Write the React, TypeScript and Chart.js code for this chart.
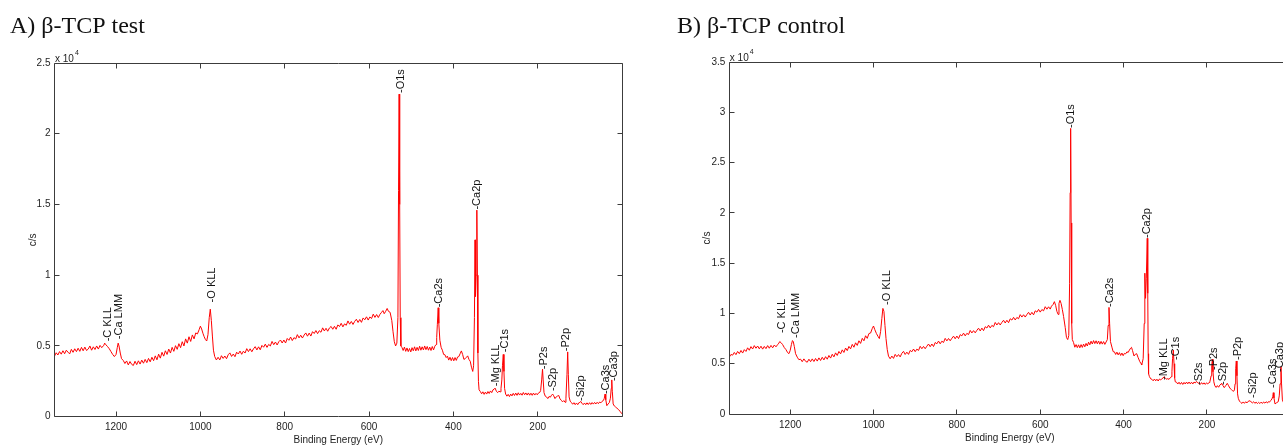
import React, { useEffect, useRef } from "react";
import { Chart, registerables } from "chart.js";

Chart.register(...registerables);

// ---------- Data: [binding energy (eV), intensity (x10^4 c/s)] ----------
const spectrumA: [number, number][] = [
  [1346, 0.428], [1342, 0.452], [1338, 0.436], [1334, 0.46], [1330, 0.442], [1326, 0.466], [1322, 0.445], [1318, 0.47],
  [1314, 0.456], [1310, 0.444], [1306, 0.476], [1302, 0.455], [1298, 0.48], [1294, 0.46], [1290, 0.484], [1286, 0.462],
  [1282, 0.49], [1278, 0.466], [1274, 0.492], [1270, 0.468], [1266, 0.478], [1262, 0.5], [1258, 0.47], [1254, 0.494],
  [1250, 0.475], [1246, 0.5], [1242, 0.478], [1238, 0.504], [1234, 0.488], [1229, 0.505], [1227, 0.52], [1224, 0.508],
  [1220, 0.495], [1216, 0.48], [1212, 0.46], [1208, 0.44], [1204, 0.425], [1200, 0.44], [1197, 0.49], [1195, 0.52],
  [1193, 0.5], [1190, 0.45], [1187, 0.41], [1183, 0.398], [1179, 0.376], [1175, 0.394], [1171, 0.366], [1167, 0.39],
  [1163, 0.37], [1159, 0.362], [1155, 0.392], [1151, 0.368], [1147, 0.395], [1143, 0.372], [1139, 0.4], [1135, 0.378],
  [1131, 0.405], [1127, 0.382], [1123, 0.412], [1119, 0.388], [1115, 0.42], [1111, 0.396], [1107, 0.43], [1103, 0.402],
  [1099, 0.442], [1095, 0.414], [1091, 0.455], [1087, 0.428], [1083, 0.466], [1079, 0.44], [1075, 0.478], [1071, 0.45],
  [1067, 0.49], [1063, 0.462], [1059, 0.502], [1055, 0.476], [1051, 0.516], [1047, 0.488], [1043, 0.53], [1039, 0.5],
  [1035, 0.55], [1031, 0.52], [1027, 0.565], [1023, 0.532], [1019, 0.578], [1015, 0.55], [1011, 0.592], [1007, 0.585],
  [1003, 0.615], [1000, 0.64], [997, 0.62], [994, 0.59], [991, 0.565], [988, 0.545], [985, 0.535], [982, 0.58],
  [979, 0.7], [976.5, 0.76], [974, 0.68], [971.5, 0.57], [969, 0.47], [966, 0.425], [962, 0.401], [958, 0.42],
  [954, 0.401], [950, 0.431], [946, 0.412], [942, 0.429], [938, 0.41], [934, 0.438], [930, 0.451], [926, 0.426],
  [922, 0.443], [918, 0.424], [914, 0.456], [910, 0.443], [906, 0.464], [902, 0.441], [898, 0.463], [894, 0.45],
  [890, 0.481], [886, 0.46], [882, 0.48], [878, 0.459], [874, 0.48], [870, 0.495], [866, 0.472], [862, 0.494],
  [858, 0.473], [854, 0.504], [850, 0.491], [846, 0.513], [842, 0.49], [838, 0.511], [834, 0.5], [830, 0.532],
  [826, 0.509], [822, 0.528], [818, 0.507], [814, 0.53], [810, 0.542], [806, 0.521], [802, 0.542], [798, 0.521],
  [794, 0.553], [790, 0.54], [786, 0.563], [782, 0.538], [778, 0.559], [774, 0.549], [770, 0.58], [766, 0.557],
  [762, 0.576], [758, 0.556], [754, 0.577], [750, 0.592], [746, 0.569], [742, 0.591], [738, 0.57], [734, 0.601],
  [730, 0.588], [726, 0.609], [722, 0.587], [718, 0.608], [714, 0.597], [710, 0.628], [706, 0.606], [702, 0.625],
  [698, 0.604], [694, 0.627], [690, 0.638], [686, 0.618], [682, 0.639], [678, 0.618], [674, 0.649], [670, 0.637],
  [666, 0.66], [662, 0.635], [658, 0.656], [654, 0.646], [650, 0.677], [646, 0.654], [642, 0.673], [638, 0.652],
  [634, 0.674], [630, 0.689], [626, 0.666], [622, 0.687], [618, 0.667], [614, 0.698], [610, 0.685], [606, 0.706],
  [602, 0.683], [598, 0.705], [594, 0.694], [590, 0.725], [586, 0.702], [582, 0.722], [578, 0.701], [574, 0.724],
  [571, 0.735], [567, 0.75], [564, 0.728], [561, 0.742], [557, 0.765], [554, 0.745], [550, 0.738], [546, 0.68],
  [543, 0.6], [540, 0.53], [537, 0.5], [534, 0.52], [531.5, 0.7], [530, 1.6], [528.6, 2.28], [527.3, 1.5],
  [526, 0.7], [524.5, 0.5], [522, 0.49], [519, 0.468], [516, 0.492], [513, 0.462], [510, 0.486], [507, 0.46],
  [504, 0.482], [501, 0.458], [498, 0.488], [495, 0.466], [492, 0.494], [489, 0.465], [486, 0.49], [483, 0.468],
  [480, 0.498], [477, 0.47], [474, 0.494], [471, 0.472], [468, 0.5], [465, 0.474], [462, 0.496], [459, 0.47],
  [456, 0.492], [453, 0.468], [450, 0.496], [447, 0.472], [444, 0.498], [441, 0.51], [439.5, 0.56], [438, 0.65],
  [436, 0.77], [434.5, 0.66], [432, 0.54], [429, 0.49], [426, 0.47], [423, 0.44], [420, 0.438], [417, 0.418],
  [414, 0.428], [411, 0.4], [408, 0.42], [405, 0.396], [402, 0.418], [399, 0.395], [396, 0.418], [393, 0.398],
  [390, 0.422], [387, 0.425], [384, 0.445], [381, 0.465], [378, 0.44], [375, 0.405], [372, 0.41], [369, 0.42],
  [366, 0.43], [363, 0.405], [360, 0.392], [357, 0.35], [354, 0.32], [352, 0.36], [350, 0.7], [348.6, 1.25],
  [347.4, 0.85], [346, 1.0], [344.3, 1.46], [343, 1.0], [341.8, 0.45], [340.5, 0.25], [339, 0.19], [336, 0.178],
  [333, 0.162], [330, 0.176], [327, 0.158], [324, 0.174], [321, 0.16], [318, 0.178], [315, 0.164], [312, 0.182],
  [309, 0.17], [306, 0.19], [303, 0.195], [301, 0.202], [298, 0.18], [295, 0.17], [292, 0.18], [289, 0.176],
  [287, 0.2], [285, 0.26], [283.5, 0.36], [281.6, 0.44], [280, 0.32], [278.5, 0.2], [276, 0.16], [273, 0.145],
  [270, 0.158], [267, 0.142], [264, 0.16], [261, 0.147], [258, 0.165], [255, 0.15], [252, 0.167], [249, 0.151],
  [246, 0.169], [243, 0.153], [240, 0.165], [237, 0.152], [234, 0.171], [231, 0.155], [228, 0.168], [225, 0.153],
  [222, 0.168], [219, 0.152], [216, 0.166], [213, 0.151], [210, 0.167], [207, 0.153], [204, 0.165], [201, 0.155],
  [198, 0.168], [195, 0.172], [193, 0.185], [190.5, 0.26], [188.5, 0.336], [187, 0.26], [185, 0.17], [182, 0.145],
  [179, 0.14], [176, 0.128], [173, 0.143], [170, 0.138], [167, 0.152], [164.5, 0.16], [162, 0.148], [159, 0.128],
  [156, 0.14], [153, 0.146], [150, 0.15], [147, 0.126], [144, 0.116], [141, 0.105], [138, 0.114], [135, 0.102],
  [133, 0.13], [130.5, 0.3], [128.8, 0.458], [127.3, 0.3], [125.5, 0.14], [123, 0.11], [120, 0.1], [117, 0.088],
  [114, 0.099], [111, 0.085], [108, 0.097], [105, 0.085], [102, 0.1], [100, 0.1], [98, 0.108], [95, 0.095],
  [92, 0.085], [89, 0.097], [86, 0.085], [83, 0.098], [80, 0.086], [77, 0.099], [74, 0.087], [71, 0.1],
  [68, 0.089], [65, 0.101], [62, 0.09], [59, 0.102], [56, 0.092], [53, 0.104], [50, 0.098], [47.5, 0.108],
  [44, 0.115], [42, 0.13], [40.2, 0.16], [38.5, 0.12], [36, 0.078], [33, 0.09], [30, 0.1], [27.5, 0.13],
  [25.5, 0.2], [24.3, 0.26], [23, 0.18], [21, 0.09], [18, 0.075], [15, 0.068], [12, 0.06], [8, 0.05],
  [4, 0.035], [0, 0.02],
];

const spectrumB: [number, number][] = [
  [1346, 0.565], [1342, 0.592], [1338, 0.585], [1334, 0.612], [1330, 0.59], [1326, 0.622], [1322, 0.6], [1318, 0.632],
  [1314, 0.606], [1310, 0.64], [1306, 0.622], [1302, 0.658], [1298, 0.634], [1294, 0.67], [1290, 0.646], [1286, 0.68],
  [1282, 0.654], [1278, 0.676], [1274, 0.648], [1270, 0.674], [1266, 0.645], [1262, 0.672], [1258, 0.65], [1254, 0.68],
  [1250, 0.654], [1246, 0.682], [1242, 0.658], [1238, 0.686], [1234, 0.668], [1230, 0.69], [1227, 0.705], [1225, 0.72],
  [1222, 0.71], [1218, 0.69], [1214, 0.66], [1210, 0.64], [1206, 0.61], [1203, 0.6], [1200, 0.63], [1197, 0.69],
  [1194.5, 0.73], [1192.5, 0.72], [1190, 0.67], [1187, 0.6], [1183, 0.565], [1179, 0.54], [1175, 0.545], [1171, 0.52],
  [1167, 0.548], [1163, 0.524], [1159, 0.515], [1155, 0.545], [1151, 0.52], [1147, 0.548], [1143, 0.522], [1139, 0.552],
  [1135, 0.526], [1131, 0.558], [1127, 0.532], [1123, 0.564], [1119, 0.538], [1115, 0.57], [1111, 0.545], [1107, 0.582],
  [1103, 0.556], [1099, 0.594], [1095, 0.568], [1091, 0.608], [1087, 0.582], [1083, 0.622], [1079, 0.598], [1075, 0.638],
  [1071, 0.612], [1067, 0.656], [1063, 0.63], [1059, 0.672], [1055, 0.648], [1051, 0.692], [1047, 0.664], [1043, 0.708],
  [1039, 0.682], [1035, 0.728], [1031, 0.702], [1027, 0.752], [1023, 0.728], [1019, 0.778], [1015, 0.752], [1011, 0.8],
  [1007, 0.805], [1003, 0.85], [1000, 0.875], [997, 0.84], [993, 0.8], [989, 0.77], [986, 0.75], [983, 0.82],
  [980, 0.95], [977.5, 1.05], [975, 1.02], [972.5, 0.88], [970, 0.75], [967, 0.64], [964, 0.575], [960, 0.549],
  [956, 0.576], [952, 0.553], [948, 0.593], [944, 0.57], [940, 0.591], [936, 0.568], [932, 0.604], [928, 0.623],
  [924, 0.592], [920, 0.615], [916, 0.593], [912, 0.632], [908, 0.619], [904, 0.646], [900, 0.62], [896, 0.645],
  [892, 0.632], [888, 0.673], [884, 0.649], [880, 0.672], [876, 0.649], [872, 0.674], [868, 0.696], [864, 0.669],
  [860, 0.696], [856, 0.671], [852, 0.711], [848, 0.698], [844, 0.725], [840, 0.698], [836, 0.724], [832, 0.711],
  [828, 0.752], [824, 0.727], [820, 0.751], [816, 0.728], [812, 0.753], [808, 0.774], [804, 0.748], [800, 0.775],
  [796, 0.75], [792, 0.789], [788, 0.777], [784, 0.804], [780, 0.777], [776, 0.802], [772, 0.79], [768, 0.831],
  [764, 0.806], [760, 0.829], [756, 0.807], [752, 0.832], [748, 0.853], [744, 0.826], [740, 0.854], [736, 0.829],
  [732, 0.868], [728, 0.855], [724, 0.883], [720, 0.856], [716, 0.881], [712, 0.868], [708, 0.91], [704, 0.885],
  [700, 0.908], [696, 0.885], [692, 0.911], [688, 0.932], [684, 0.905], [680, 0.932], [676, 0.908], [672, 0.947],
  [668, 0.934], [664, 0.961], [660, 0.935], [656, 0.96], [652, 0.947], [648, 0.988], [644, 0.964], [640, 0.987],
  [636, 0.964], [632, 0.989], [628, 1.011], [624, 0.984], [620, 1.011], [616, 0.986], [612, 1.026], [608, 1.013],
  [604, 1.04], [600, 1.013], [596, 1.039], [592, 1.026], [588, 1.067], [584, 1.042], [580, 1.066], [576, 1.043],
  [573, 1.072], [569, 1.09], [566, 1.117], [563, 1.08], [560, 1.02], [557, 0.99], [555, 1.1], [552.6, 1.13],
  [550, 1.1], [547, 1.04], [544, 0.97], [540, 0.86], [537, 0.76], [534, 0.74], [531.5, 0.78], [529.5, 1.3],
  [528.2, 2.2], [527, 2.84], [525.8, 1.9], [524.5, 0.9], [523, 0.74], [520, 0.71], [517, 0.664], [514, 0.69],
  [511, 0.66], [508, 0.688], [505, 0.658], [502, 0.69], [499, 0.662], [496, 0.695], [493, 0.668], [490, 0.702],
  [487, 0.676], [484, 0.714], [481, 0.688], [478, 0.724], [475, 0.696], [472, 0.73], [469, 0.7], [466, 0.728],
  [463, 0.698], [460, 0.726], [457, 0.694], [454, 0.722], [451, 0.695], [448, 0.72], [445, 0.692], [442, 0.716],
  [439, 0.74], [437, 0.88], [435, 1.06], [433.5, 0.9], [431.5, 0.72], [428, 0.665], [425, 0.62], [422, 0.618],
  [419, 0.592], [416, 0.615], [413, 0.588], [410, 0.61], [407, 0.582], [404, 0.606], [401, 0.58], [398, 0.603],
  [395, 0.598], [392, 0.618], [389, 0.612], [386, 0.636], [383, 0.655], [381, 0.663], [378.5, 0.63], [375, 0.577],
  [371.5, 0.595], [368.6, 0.6], [365, 0.56], [361, 0.52], [358, 0.5], [356.6, 0.487], [353, 0.55], [350.5, 0.9],
  [349, 1.4], [347.3, 1.15], [345.5, 1.35], [343.2, 1.747], [342, 1.2], [341, 0.6], [340, 0.4], [338, 0.372],
  [335, 0.35], [332, 0.345], [329, 0.33], [326, 0.348], [323, 0.33], [320, 0.346], [317, 0.328], [314, 0.348],
  [311, 0.338], [308, 0.352], [305, 0.358], [303, 0.37], [300, 0.36], [297, 0.345], [294, 0.352], [291, 0.344],
  [288, 0.36], [286, 0.37], [284, 0.42], [282.5, 0.55], [280.7, 0.636], [279, 0.5], [277.5, 0.36], [276, 0.32],
  [273, 0.316], [270, 0.298], [267, 0.316], [264, 0.296], [261, 0.314], [258, 0.294], [255, 0.314], [252, 0.298],
  [249, 0.318], [246, 0.3], [243, 0.318], [240, 0.3], [237, 0.316], [234, 0.298], [231, 0.318], [228, 0.308],
  [225, 0.324], [222, 0.31], [219, 0.304], [216, 0.294], [213, 0.312], [210, 0.296], [207, 0.31], [204, 0.294],
  [201, 0.31], [198, 0.298], [195, 0.314], [193, 0.32], [190, 0.38], [188.5, 0.48], [187, 0.544], [185.5, 0.42],
  [183.5, 0.32], [181, 0.28], [178, 0.264], [175, 0.282], [172, 0.266], [169, 0.288], [166, 0.298], [164.6, 0.305],
  [162, 0.285], [158.4, 0.262], [155, 0.282], [151.2, 0.305], [148, 0.28], [145, 0.258], [142, 0.245], [139, 0.232],
  [136, 0.226], [134, 0.24], [132.5, 0.3], [131, 0.45], [129.6, 0.527], [128, 0.38], [126.5, 0.2], [124.8, 0.156],
  [122, 0.128], [119, 0.115], [116, 0.105], [113, 0.12], [110, 0.106], [107, 0.122], [104, 0.11], [101, 0.126],
  [98.5, 0.13], [96.7, 0.132], [94, 0.12], [91, 0.11], [88, 0.122], [85, 0.106], [82, 0.118], [79, 0.104],
  [76, 0.116], [73, 0.104], [70, 0.118], [67, 0.105], [64, 0.12], [61, 0.108], [58, 0.122], [55, 0.11],
  [52.8, 0.122], [50, 0.118], [47, 0.134], [44, 0.15], [42, 0.175], [40.8, 0.212], [39.2, 0.16], [36.7, 0.1],
  [33, 0.112], [29, 0.122], [26.5, 0.18], [24.5, 0.3], [22.4, 0.47], [21, 0.3], [19, 0.14], [15, 0.1],
  [10, 0.08], [5, 0.06], [0, 0.05],
];

const xTickValues = [1200, 1000, 800, 600, 400, 200];
const yTicksA = [0, 0.5, 1, 1.5, 2, 2.5];
const yTicksB = [0, 0.5, 1, 1.5, 2, 2.5, 3, 3.5];

const peakNamesA = ["C KLL", "Ca LMM", "O KLL", "O1s", "Ca2s", "Ca2p", "Mg KLL", "C1s", "P2s", "S2p", "P2p", "Si2p", "Ca3s", "Ca3p"];
const peakEnergyA = [1219, 1192, 973, 524.5, 434, 343, 299, 278, 185, 164, 133, 97, 38, 19];
const peakLevelA = [0.533, 0.548, 0.808, 2.288, 0.773, 1.464, 0.216, 0.456, 0.336, 0.181, 0.463, 0.111, 0.16, 0.252];

const peakNamesB = ["C KLL", "Ca LMM", "O KLL", "O1s", "Ca2s", "Ca2p", "Mg KLL", "C1s", "S2s", "P2s", "S2p", "P2p", "Si2p", "Ca3s", "Ca3p"];
const peakEnergyB = [1220, 1186, 968, 526, 432.5, 344.5, 303, 274, 220, 183, 161, 125, 90, 41, 24];
const peakLevelB = [0.805, 0.756, 1.084, 2.844, 1.064, 1.75, 0.338, 0.537, 0.288, 0.4375, 0.288, 0.537, 0.159, 0.259, 0.418];

// ---------- Styling ----------
const SANS = '"Liberation Sans", Arial, Helvetica, sans-serif';
const SERIF = '"Liberation Serif", "Times New Roman", serif';
const RED = "#ff0000";
const INK = "#1e1e1e";
const BOX = "#3c3c3c";

type Spec = {
  title: string;
  spectrum: [number, number][];
  yMax: number;
  yTicks: number[];
  peakNames: string[];
  peakEnergy: number[];
  peakLevel: number[];
  canvasLeft: number;
  canvasWidth: number;
  yAxisWidth: number;
  padTop: number;
  padRight: number;
  xAxisHeight: number;
  titleX: number;
  yTitleX: number;
};

const specA: Spec = {
  title: "A) \u03B2-TCP test",
  spectrum: spectrumA,
  yMax: 2.5,
  yTicks: yTicksA,
  peakNames: peakNamesA,
  peakEnergy: peakEnergyA,
  peakLevel: peakLevelA,
  canvasLeft: 0,
  canvasWidth: 660,
  yAxisWidth: 54.5,
  padTop: 63,
  padRight: 38,
  xAxisHeight: 31.3,
  titleX: 10,
  yTitleX: 33,
};

const specB: Spec = {
  title: "B) \u03B2-TCP control",
  spectrum: spectrumB,
  yMax: 3.5,
  yTicks: yTicksB,
  peakNames: peakNamesB,
  peakEnergy: peakEnergyB,
  peakLevel: peakLevelB,
  canvasLeft: 660,
  canvasWidth: 640,
  yAxisWidth: 69.3,
  padTop: 62,
  padRight: 9.7,
  xAxisHeight: 34,
  titleX: 17,
  yTitleX: 47,
};

const crisp = (v: number) => Math.round(v - 0.5) + 0.5;

function makeDecor(spec: Spec) {
  return {
    id: "decor",
    afterDraw(chart: any) {
      const { ctx, chartArea } = chart;
      const xs = chart.scales.x;
      const ys = chart.scales.y;
      const L = crisp(chartArea.left);
      const R = crisp(chartArea.right);
      const T = crisp(chartArea.top);
      const B = crisp(chartArea.bottom);
      ctx.save();
      // box
      ctx.strokeStyle = BOX;
      ctx.lineWidth = 1;
      ctx.beginPath();
      ctx.rect(L, T, R - L, B - T);
      ctx.stroke();
      // inward ticks
      const tl = 5;
      ctx.beginPath();
      xTickValues.forEach((v) => {
        const px = crisp(xs.getPixelForValue(v));
        ctx.moveTo(px, B);
        ctx.lineTo(px, B - tl);
        ctx.moveTo(px, T);
        ctx.lineTo(px, T + tl);
      });
      spec.yTicks.forEach((v) => {
        const py = crisp(ys.getPixelForValue(v));
        ctx.moveTo(L, py);
        ctx.lineTo(L + tl, py);
        ctx.moveTo(R, py);
        ctx.lineTo(R - tl, py);
      });
      ctx.stroke();

      // panel title
      ctx.fillStyle = "#111";
      ctx.font = `24px ${SERIF}`;
      ctx.textAlign = "left";
      ctx.textBaseline = "alphabetic";
      ctx.fillText(spec.title, spec.titleX, 33);

      // exponent label
      ctx.fillStyle = INK;
      ctx.font = `10px ${SANS}`;
      ctx.fillText("x 10", chartArea.left + 0.5, chartArea.top - 1.5);
      const w = ctx.measureText("x 10").width;
      ctx.font = `7px ${SANS}`;
      ctx.fillText("4", chartArea.left + 1.5 + w, chartArea.top - 8);

      // axis titles
      ctx.font = `10px ${SANS}`;
      ctx.textAlign = "center";
      ctx.textBaseline = "middle";
      ctx.fillText("Binding Energy (eV)", (chartArea.left + chartArea.right) / 2, chartArea.bottom + 24);
      ctx.save();
      ctx.translate(spec.yTitleX, (chartArea.top + chartArea.bottom) / 2);
      ctx.rotate(-Math.PI / 2);
      ctx.fillText("c/s", 0, 0);
      ctx.restore();

      // peak labels (rotated)
      ctx.font = `11px ${SANS}`;
      ctx.fillStyle = "#111";
      ctx.textAlign = "left";
      ctx.textBaseline = "middle";
      spec.peakNames.forEach((name, i) => {
        const px = xs.getPixelForValue(spec.peakEnergy[i]);
        const py = ys.getPixelForValue(spec.peakLevel[i]);
        ctx.save();
        ctx.translate(px, py);
        ctx.rotate(-Math.PI / 2);
        ctx.fillText("-" + name, 0, 0);
        ctx.restore();
      });
      ctx.restore();
    },
  };
}

function makeConfig(spec: Spec): any {
  return {
    type: "line",
    data: {
      datasets: [
        {
          data: spec.spectrum.map(([e, c]) => ({ x: e, y: c })),
          borderColor: RED,
          borderWidth: 1,
          pointRadius: 0,
          pointHoverRadius: 0,
          tension: 0,
          fill: false,
        },
      ],
    },
    options: {
      animation: false,
      responsive: false,
      devicePixelRatio: 1,
      events: [],
      layout: { padding: { left: 0, top: spec.padTop, right: spec.padRight, bottom: 0 } },
      plugins: { legend: { display: false }, tooltip: { enabled: false }, title: { display: false } },
      scales: {
        x: {
          type: "linear",
          reverse: true,
          min: 0,
          max: 1346,
          grid: { display: false, drawTicks: false },
          border: { display: false },
          afterBuildTicks: (scale: any) => {
            scale.ticks = xTickValues.map((v) => ({ value: v }));
          },
          afterFit: (scale: any) => {
            scale.height = spec.xAxisHeight;
          },
          ticks: {
            autoSkip: false,
            maxRotation: 0,
            padding: 5,
            color: INK,
            font: { family: SANS, size: 10 },
            callback: (v: any) => String(v),
          },
        },
        y: {
          type: "linear",
          min: 0,
          max: spec.yMax,
          grid: { display: false, drawTicks: false },
          border: { display: false },
          afterBuildTicks: (scale: any) => {
            scale.ticks = spec.yTicks.map((v) => ({ value: v }));
          },
          afterFit: (scale: any) => {
            scale.width = spec.yAxisWidth;
          },
          ticks: {
            autoSkip: false,
            padding: 4,
            color: INK,
            font: { family: SANS, size: 10 },
            callback: (v: any) => String(v),
          },
        },
      },
    },
    plugins: [makeDecor(spec)],
  };
}

function Panel({ spec }: { spec: Spec }) {
  const ref = useRef<HTMLCanvasElement | null>(null);
  useEffect(() => {
    if (!ref.current) return;
    const chart = new Chart(ref.current, makeConfig(spec));
    return () => chart.destroy();
  }, [spec]);
  return (
    <canvas
      ref={ref}
      width={spec.canvasWidth}
      height={448}
      style={{ position: "absolute", left: spec.canvasLeft, top: 0, width: spec.canvasWidth, height: 448 }}
    />
  );
}

export default function App() {
  return (
    <div
      style={{
        position: "fixed",
        left: 0,
        top: 0,
        width: 1283,
        height: 448,
        overflow: "hidden",
        background: "#fff",
      }}
    >
      <Panel spec={specA} />
      <Panel spec={specB} />
    </div>
  );
}
